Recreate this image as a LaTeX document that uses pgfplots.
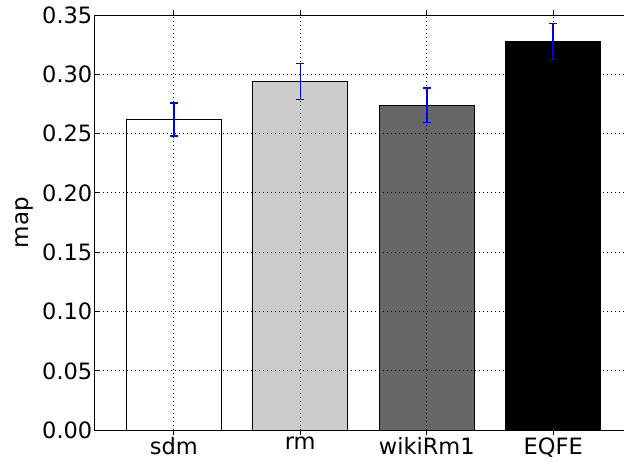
\documentclass[border=0pt]{standalone}
\usepackage{fontspec}
\setmainfont{DejaVu Sans}
\usepackage{pgfplots}
\pgfplotsset{compat=1.18}
\definecolor{lightbar}{HTML}{CCCCCC}
\definecolor{darkbar}{HTML}{666666}

\pgfplotsset{
  errstyle/.style={
    draw=black, line width=0.5pt,
    error bars/.cd,
      y dir=both, y explicit,
      error bar style={draw=blue, line width=0.75pt, solid},
      error mark options={draw=blue, color=blue, rotate=90, mark size=2pt, line width=0.75pt, solid},
  },
}

\begin{document}
\begin{tikzpicture}
\begin{axis}[
    scale only axis,
    width=268.8pt, height=207.65pt,
    xmin=-0.625, xmax=3.625,
    ymin=0, ymax=0.35,
    xtick={0,1,2,3},
    xticklabels={sdm,rm,wikiRm1,EQFE},
    xticklabel style={yshift=2.5pt},
    ytick={0,0.05,0.10,0.15,0.20,0.25,0.30,0.35},
    yticklabel style={/pgf/number format/fixed,
                      /pgf/number format/fixed zerofill,
                      /pgf/number format/precision=2,
                      inner xsep=1pt},
    /pgf/number format/assume math mode=true,
    tick label style={font=\fontsize{11.25}{13}\selectfont},
    ylabel={map},
    ylabel style={at={(axis description cs:-0.131,0.5)}, anchor=center,
                  font=\fontsize{11.5}{13}\selectfont},
    tick align=inside,
    major tick length=2.5pt,
    tick style={black, line width=0.5pt},
    grid=major,
    major grid style={black, line width=0.5pt, dash pattern=on 0.5pt off 1.5pt},
    axis on top,
    axis line style={line width=0.5pt},
    ybar, bar width=0.75, bar shift=0pt,
]
\addplot[fill=white, errstyle] coordinates {(0,0.262) +- (0,0.014)};
\addplot[fill=lightbar, errstyle] coordinates {(1,0.294) +- (0,0.015)};
\addplot[fill=darkbar, errstyle] coordinates {(2,0.274) +- (0,0.0145)};
\addplot[fill=black, errstyle] coordinates {(3,0.3275) +- (0,0.0152)};
\end{axis}
\pgfresetboundingbox
\path[use as bounding box] ([shift={(-47.35pt,-15.35pt)}]current axis.south west) rectangle ++(312pt,230.5pt);
\end{tikzpicture}
\end{document}
